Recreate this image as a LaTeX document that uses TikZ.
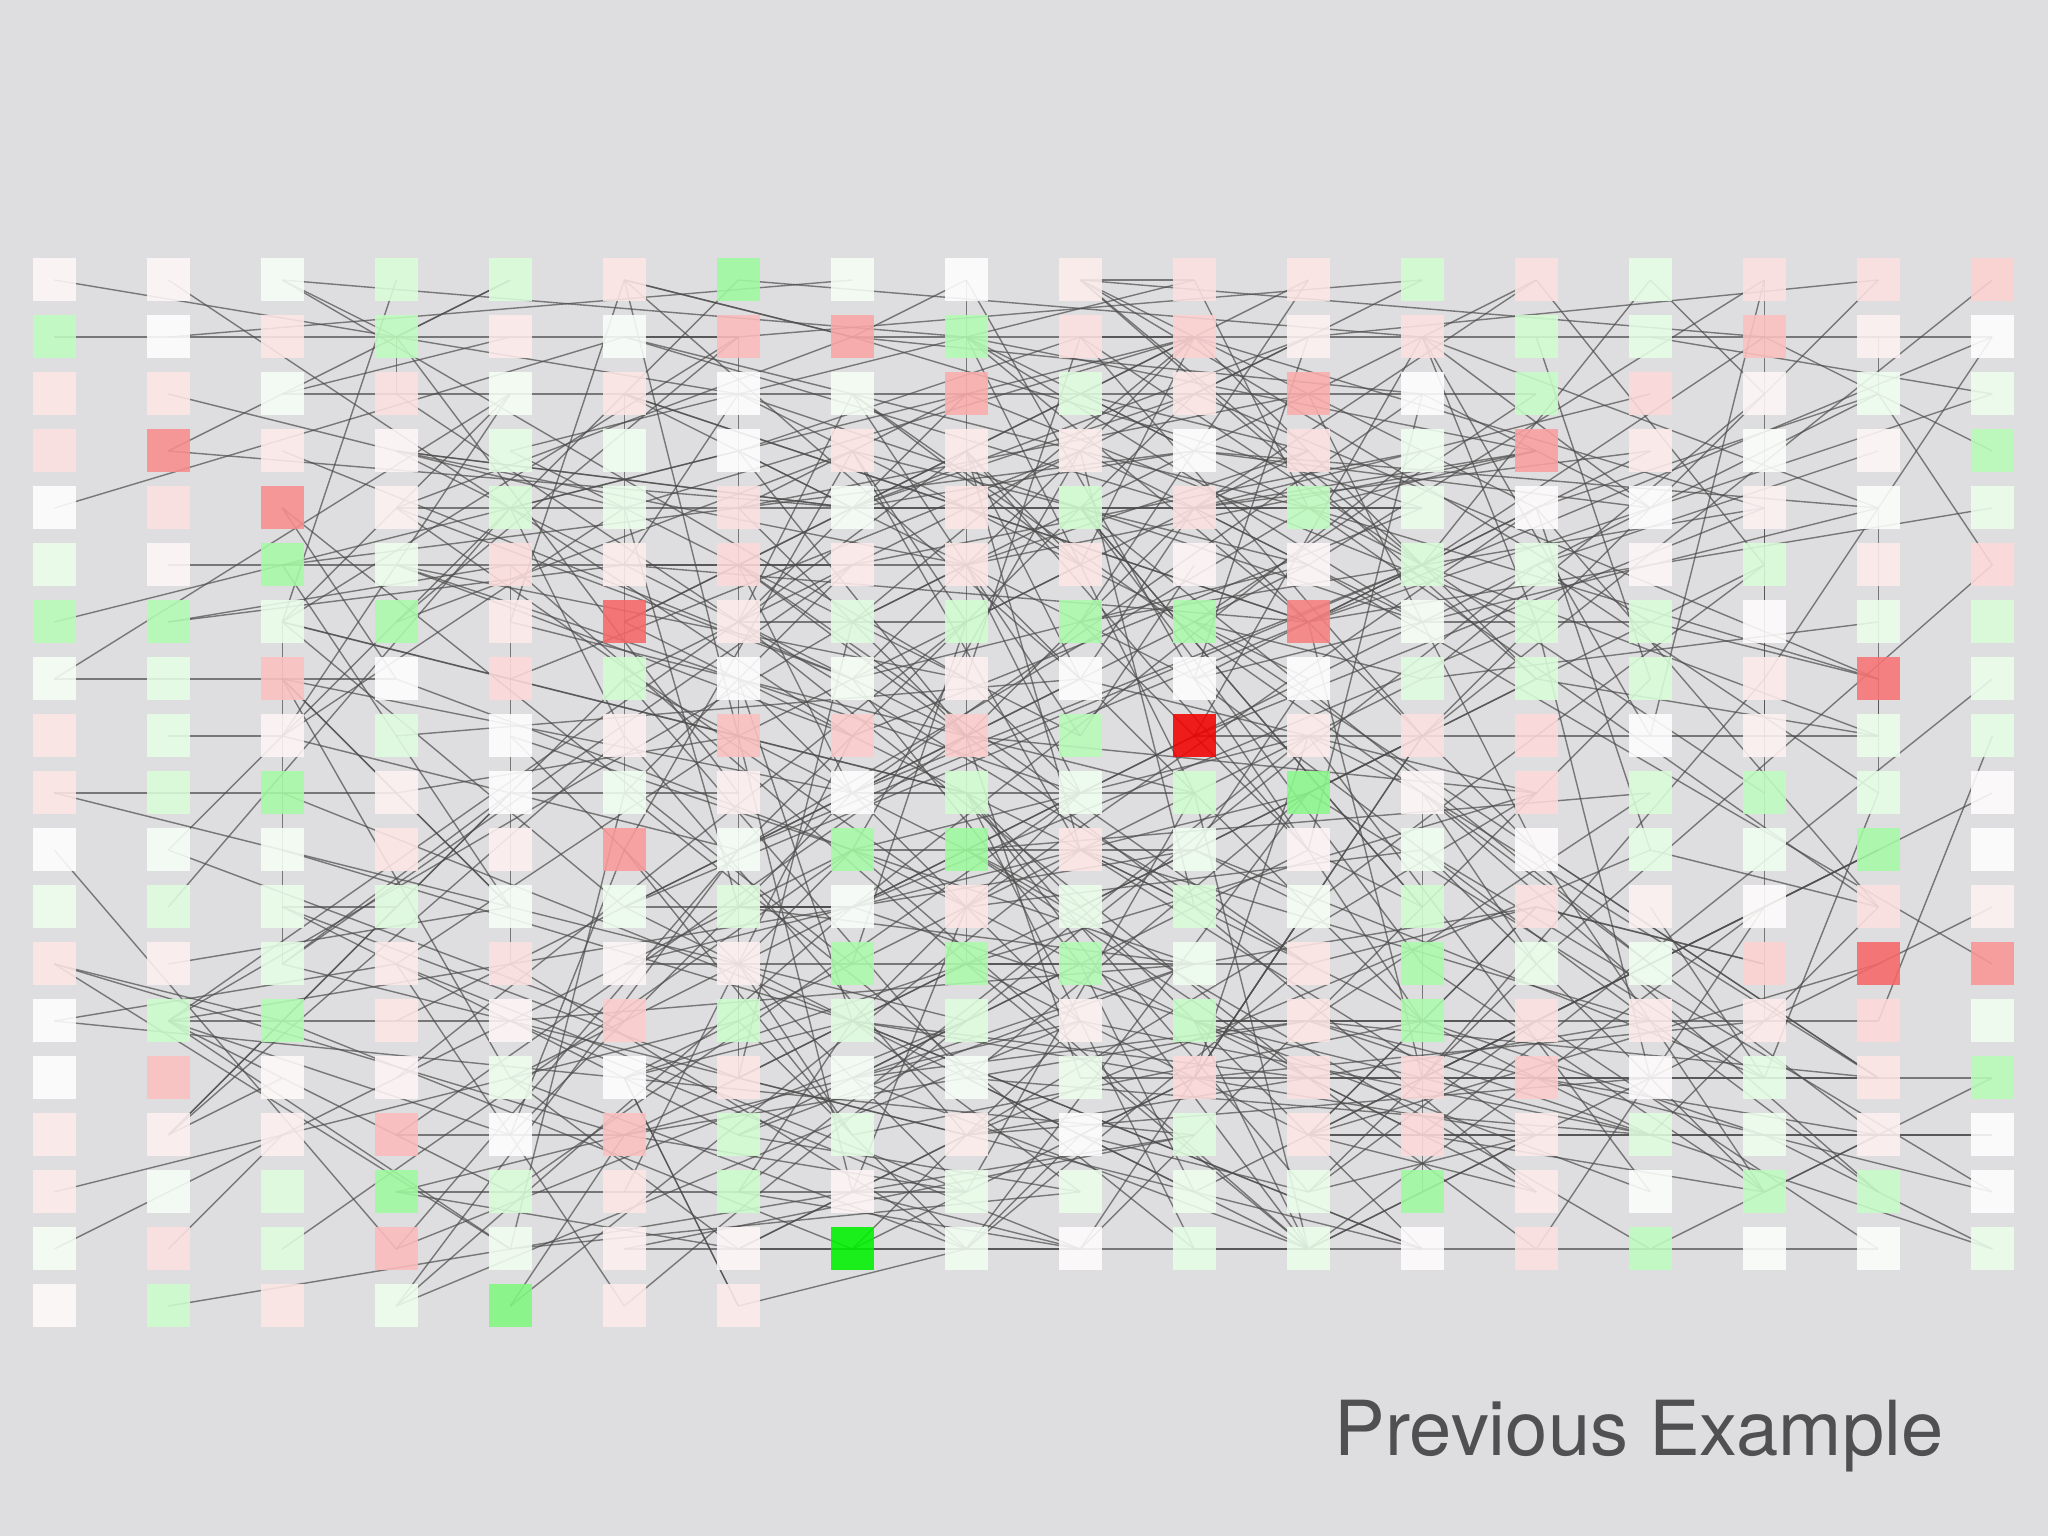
\documentclass[tikz,border=0pt]{standalone}
\usepackage{fontspec}
\usetikzlibrary{backgrounds}
\newfontfamily\labelfont{TeX Gyre Heros}
\definecolor{up}{RGB}{0,242,0}
\definecolor{dn}{RGB}{242,2,2}
\definecolor{canvas}{RGB}{222,222,224}
\definecolor{ink}{RGB}{80,80,82}

\begin{document}
\begin{tikzpicture}[
  cell/.style={minimum size=0.43cm, inner sep=0pt, fill opacity=0.88},
  link/.style={line width=0.4pt, black!70, opacity=0.7}]
  \useasboundingbox (0,0) rectangle (20.48,15.36);
  % one list of tones per column, top row first
  \foreach \genes [count=\x from 0] in {
    {dn!3, up!25, dn!10, dn!12, white, up!8, up!28, up!4, dn!10, dn!10, white, up!7, dn!10, white, white, dn!8, dn!8, up!4, dn!2},
    {dn!3, white, dn!10, dn!45, dn!12, dn!3, up!30, up!10, up!10, up!15, up!3, up!13, dn!6, up!20, dn!25, dn!6, up!3, dn!12, up!20},
    {up!3, dn!10, up!3, dn!8, dn!45, up!35, up!8, dn!25, dn!4, up!35, up!4, up!8, up!10, up!30, dn!2, dn!6, up!13, up!13, dn!10},
    {up!15, up!25, dn!12, dn!3, dn!5, up!7, up!33, white, up!12, dn!5, dn!10, up!12, dn!8, dn!10, dn!4, dn!27, up!38, dn!27, up!7},
    {up!15, dn!8, up!4, up!10, up!15, dn!13, dn!8, dn!15, white, white, dn!6, up!3, dn!12, dn!4, up!7, white, up!15, up!5, up!50},
    {dn!10, up!2, dn!10, up!6, up!8, dn!7, dn!60, up!18, dn!6, up!6, dn!40, up!6, dn!3, dn!20, white, dn!25, dn!10, dn!6, dn!8},
    {up!38, dn!27, white, white, dn!12, dn!15, dn!8, white, dn!25, dn!6, up!3, up!13, dn!6, up!20, dn!10, up!18, up!20, dn!3, dn!8},
    {up!4, dn!35, up!4, dn!10, up!3, dn!8, up!12, up!4, dn!20, white, up!35, up!2, up!33, up!12, up!3, up!10, dn!4, up!100},
    {white, up!30, dn!33, dn!8, dn!10, dn!10, up!18, dn!6, dn!20, up!18, up!38, dn!10, up!33, up!13, up!3, dn!7, up!8, up!5},
    {dn!7, dn!12, up!13, dn!7, up!18, dn!10, up!33, white, up!28, up!6, dn!10, up!8, up!30, dn!5, up!7, white, up!8, dn!1},
    {dn!12, dn!18, dn!10, white, dn!12, dn!4, up!33, white, dn!100, up!18, up!6, up!15, up!6, up!22, dn!15, up!12, up!7, up!10},
    {dn!10, dn!5, dn!33, dn!12, up!25, dn!3, dn!50, white, dn!8, up!45, dn!4, up!4, dn!10, dn!10, dn!12, dn!10, up!8, up!8},
    {up!18, dn!12, white, up!6, up!8, up!15, up!4, up!12, dn!12, dn!3, up!6, up!18, up!33, up!32, dn!15, dn!15, up!38, dn!1},
    {dn!12, up!18, up!22, dn!38, dn!1, up!10, up!15, up!15, dn!15, dn!15, dn!1, dn!12, up!8, dn!12, dn!20, dn!8, dn!8, dn!12},
    {up!10, up!10, dn!15, dn!8, white, dn!3, up!15, up!15, white, up!15, up!10, dn!5, up!6, dn!8, dn!1, up!13, up!1, up!25},
    {dn!12, dn!25, dn!3, up!1, dn!5, up!15, dn!1, dn!8, dn!5, up!25, up!6, dn!1, dn!18, dn!8, up!10, up!7, up!25, up!1},
    {dn!12, dn!5, up!6, dn!3, up!1, dn!8, up!8, dn!55, up!8, up!10, up!35, dn!12, dn!60, dn!15, dn!10, dn!6, up!22, up!1},
    {dn!18, white, up!7, up!28, up!8, dn!15, up!15, up!8, up!10, dn!1, white, dn!5, dn!42, up!5, up!28, white, white, up!8}}
    \foreach \tone [count=\y from 0] in \genes
      \node[cell, fill=\tone] (n\x-\y) at (0.543+1.14*\x, 12.56-0.57*\y) {};
  \begin{pgfonlayer}{background}
    \fill[canvas] (0,0) rectangle (20.48,15.36);
    % interactions: spread over the whole grid, then more in the middle
    \pgfmathsetseed{4242}
    \foreach \k in {1,...,520} {
      \pgfmathtruncatemacro\ca{\k<180 ? random(0,17) : int((random(0,17)+random(1,17)+random(0,17))/3+0.5)}
      \pgfmathtruncatemacro\cb{17-abs(17-abs(\ca+(2*random(0,1)-1)*random(1,6)))}
      \pgfmathtruncatemacro\ma{\ca<7 ? 18 : 17}
      \pgfmathtruncatemacro\mb{\cb<7 ? 18 : 17}
      \pgfmathtruncatemacro\ra{random(0,\ma)}
      \pgfmathtruncatemacro\rb{\mb-abs(\mb-abs(\ra+random(-8,8)))}
      \draw[link] (n\ca-\ra.center) -- (n\cb-\rb.center);
    }
    \foreach \x/\a/\b in {6/1/14, 8/0/12, 15/0/13, 12/9/16, 5/2/9, 4/5/12, 16/7/9, 16/1/2}
      \draw[link] (n\x-\a.center) -- (n\x-\b.center);
  \end{pgfonlayer}
  \node[anchor=base west, inner sep=0pt, text=ink, font=\labelfont\fontsize{21.6}{26}\selectfont] (caption) at (13.34,0.80) {Previous Example};
\end{tikzpicture}
\end{document}
